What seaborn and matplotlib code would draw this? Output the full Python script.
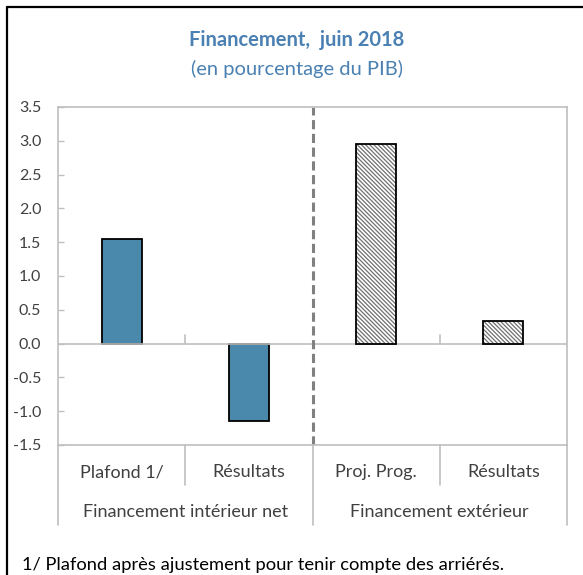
import matplotlib
matplotlib.use("Agg")
import matplotlib.pyplot as plt
from matplotlib.patches import Rectangle
from matplotlib.lines import Line2D
import seaborn as sns
import pandas as pd

# ---- data ----
bar_keys = ["c1", "c2", "c3", "c4"]
bar_labels = ["Plafond 1/", "Résultats", "Proj. Prog.", "Résultats"]
group_labels = ["Financement intérieur net", "Financement extérieur"]
values = [1.55, -1.14, 2.96, 0.34]
styles = ["solid", "solid", "hatch", "hatch"]
yticks = [-1.5, -1.0, -0.5, 0.0, 0.5, 1.0, 1.5, 2.0, 2.5, 3.0, 3.5]

title = "Financement,  juin 2018"
subtitle = "(en pourcentage du PIB)"
footnote = "1/ Plafond après ajustement pour tenir compte des arriérés."

df = pd.DataFrame({"key": bar_keys, "value": values})

sns.set_theme(style="white")
plt.rcParams["font.family"] = ["Lato", "DejaVu Sans"]
plt.rcParams["hatch.linewidth"] = 0.9

W, H = 583, 575
fig = plt.figure(figsize=(W / 100, H / 100), dpi=100)
L, R, T, B = 58, 567, 107, 445
ax = fig.add_axes([L / W, 1 - B / H, (R - L) / W, (B - T) / H])

BLUE = "#4a89ac"
GRID = "#bfbfbf"
TXT = "#404040"
TITLE_C = "#4a80b2"

sns.barplot(data=df, x="key", y="value", order=bar_keys, color=BLUE,
            width=0.315, ax=ax, saturation=1)

for p, st in zip(ax.patches, styles):
    if st == "hatch":
        p.set_facecolor("white")
        p.set_hatch("\\" * 8)
        p.set_edgecolor("#707070")
        p.set_linewidth(0)
        ax.add_patch(Rectangle(p.get_xy(), p.get_width(), p.get_height(),
                               fill=False, edgecolor="black", linewidth=1.3, zorder=3))
    else:
        p.set_edgecolor("black")
        p.set_linewidth(1.3)

ax.set_xlim(-0.5, len(bar_keys) - 0.5)
ax.set_ylim(yticks[0], yticks[-1])
ax.set_yticks(yticks)
ax.set_yticklabels([f"{v:.1f}" for v in yticks], color=TXT, fontsize=11.5)
ax.tick_params(axis="y", direction="in", length=4, width=1, color=GRID, pad=12, left=True)
ax.set_xticks([])
ax.set_xlabel("")
ax.set_ylabel("")
for s in ax.spines.values():
    s.set_color(GRID)
    s.set_linewidth(1.2)

# zero line
ax.axhline(0, color=GRID, lw=1.2, zorder=1)
# small category ticks on the zero line
for xb in [0.5, 2.5]:
    ax.plot([xb, xb], [0, 0.12], color=GRID, lw=1.2, zorder=1)
# dashed separator
ax.axvline(1.5, color="#808080", lw=2.2, linestyle=(0, (3, 1.5)), zorder=2)

# category axis (multi-level)
row1_bot = -(485 - B) / (B - T)
row2_bot = -(525 - B) / (B - T)
trans = ax.get_xaxis_transform()
for xb in [0.5, 2.5]:
    ax.add_line(Line2D([xb, xb], [0, row1_bot], transform=trans, color=GRID, lw=1.2, clip_on=False))
for xb in [-0.5, 1.5, 3.5]:
    ax.add_line(Line2D([xb, xb], [0, row2_bot], transform=trans, color=GRID, lw=1.2, clip_on=False))

y1 = -(472 - B) / (B - T)
y2 = -(512 - B) / (B - T)
for i, lab in enumerate(bar_labels):
    ax.text(i, y1, lab, transform=trans, ha="center", va="center", fontsize=13, color=TXT)
for g, lab in enumerate(group_labels):
    ax.text(0.5 + 2 * g, y2, lab, transform=trans, ha="center", va="center", fontsize=13, color=TXT)

fig.text(297 / W, 1 - 40 / H, title, ha="center", va="center", fontsize=14.5,
         fontweight="bold", color=TITLE_C)
fig.text(297 / W, 1 - 69 / H, subtitle, ha="center", va="center", fontsize=14.5, color=TITLE_C)
fig.text(22 / W, 1 - 565 / H, footnote, ha="left", va="center", fontsize=13.2, color="black")

# outer frame (left and top)
fig.add_artist(Line2D([7 / W, 7 / W], [0, 1 - 7 / H], transform=fig.transFigure, color="black", lw=1.6))
fig.add_artist(Line2D([7 / W, 1], [1 - 7 / H, 1 - 7 / H], transform=fig.transFigure, color="black", lw=1.6))

fig.savefig("out.png", dpi=100, facecolor="white")
